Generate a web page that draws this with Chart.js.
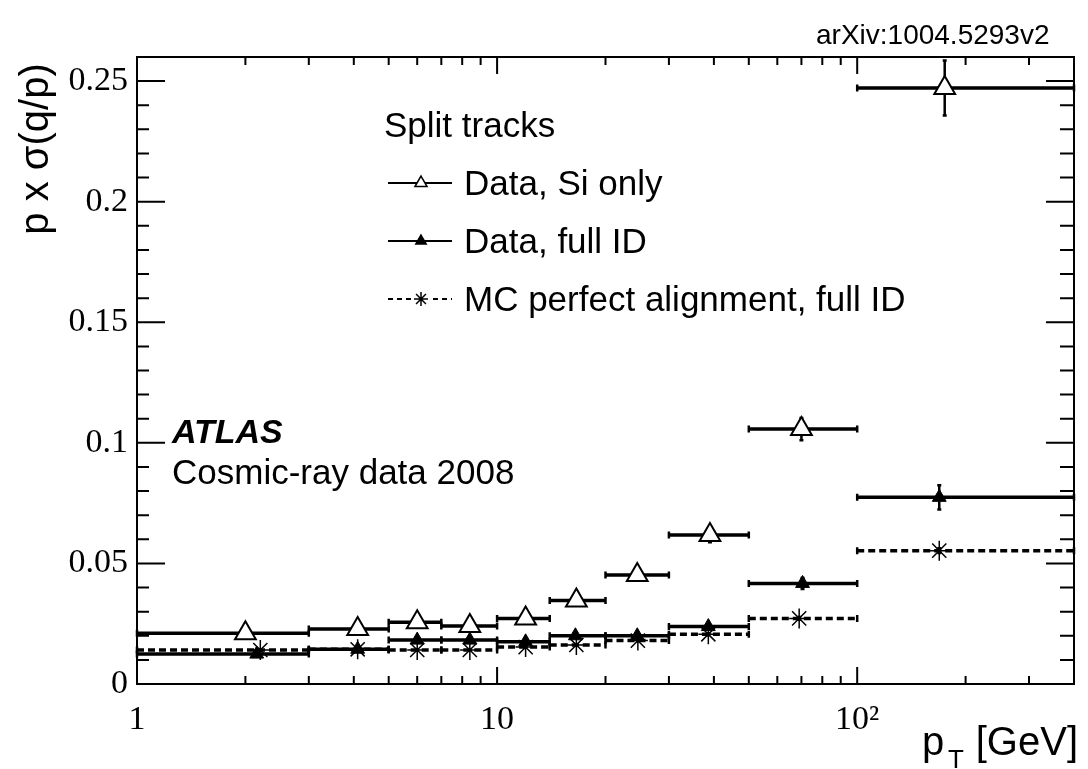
<!DOCTYPE html>
<html>
<head>
<meta charset="utf-8">
<script src="https://cdn.jsdelivr.net/npm/chart.js@4.4.0/dist/chart.umd.min.js"></script>
<style>
  body { margin: 0; background: #fff; }
  #wrap { width: 1088px; height: 769px; position: relative; }
</style>
</head>
<body>
<div id="wrap"><canvas id="myChart"></canvas></div>
<script>
// pT bins [GeV]
const binEdges = [1, 3, 5, 7, 10, 14, 20, 30, 50, 100, 400];

// Data, Si only
const siOnlyX = [2.0, 4.1, 6.0, 8.4, 12.0, 16.6, 24.5, 39, 70, 175];
const siOnly = [0.0210, 0.0228, 0.0256, 0.0240, 0.0272, 0.0346, 0.0452, 0.0618, 0.1057, 0.2471];
const siOnlyErr = [0.0006, 0.0006, 0.0007, 0.0007, 0.0008, 0.0010, 0.0015, 0.0030, 0.0046, 0.0114];

// Data, full ID
const fullIdX = [2.15, 4.1, 6.0, 8.4, 12.0, 16.5, 24.5, 38.6, 70.5, 169];
const fullId = [0.0124, 0.0144, 0.0182, 0.0182, 0.0175, 0.0200, 0.0200, 0.0238, 0.0417, 0.0774];
const fullIdErr = [0.0004, 0.0004, 0.0005, 0.0005, 0.0006, 0.0007, 0.0008, 0.0012, 0.0023, 0.0050];

// MC perfect alignment, full ID
const mcX = [2.2, 4.1, 6.0, 8.4, 12.0, 16.6, 24.6, 38.6, 69, 169];
const mcPerfect = [0.0141, 0.0144, 0.0141, 0.0141, 0.0153, 0.0162, 0.0180, 0.0206, 0.0272, 0.0553];
const mcErr = [0.0002, 0.0002, 0.0002, 0.0002, 0.0002, 0.0003, 0.0003, 0.0004, 0.0006, 0.0010];

const yTickValues = [0, 0.05, 0.1, 0.15, 0.2, 0.25];
const yTickLabels = ["0", "0.05", "0.1", "0.15", "0.2", "0.25"];
const xTickValues = [1, 10, 100];
const xTickLabels = ["1", "10", "10\u00B2"];

function steps(vals) {
  const pts = [];
  vals.forEach(function (v, i) {
    pts.push({ x: binEdges[i], y: v }, { x: binEdges[i + 1], y: v }, { x: binEdges[i + 1], y: null });
  });
  return pts;
}

function points(xs, vals) {
  return vals.map(function (v, i) { return { x: xs[i], y: v }; });
}

const SANS = "'Liberation Sans', Arial, sans-serif";
const SERIF = "'Liberation Serif', 'Times New Roman', serif";

// error bars: end caps of the bins and vertical errors
const errorBars = {
  id: "errorBars",
  beforeDatasetsDraw(chart) {
    const ctx = chart.ctx;
    const x = chart.scales.x, y = chart.scales.y;
    ctx.save();
    ctx.strokeStyle = "#000";
    ctx.lineWidth = 2.5;
    const sets = [[siOnly, siOnlyX, siOnlyErr], [fullId, fullIdX, fullIdErr], [mcPerfect, mcX, mcErr]];
    sets.forEach(function (s) {
      const vals = s[0], xs = s[1], errs = s[2];
      vals.forEach(function (v, i) {
        const py = y.getPixelForValue(v);
        ctx.beginPath();
        [binEdges[i], binEdges[i + 1]].forEach(function (e) {
          const px = x.getPixelForValue(e);
          ctx.moveTo(px, py - 3.5);
          ctx.lineTo(px, py + 3.5);
        });
        const cx = x.getPixelForValue(xs[i]);
        const top = y.getPixelForValue(v + errs[i]);
        const bot = y.getPixelForValue(v - errs[i]);
        ctx.moveTo(cx, top);
        ctx.lineTo(cx, bot);
        ctx.moveTo(cx - 2, top);
        ctx.lineTo(cx + 2, top);
        ctx.moveTo(cx - 2, bot);
        ctx.lineTo(cx + 2, bot);
        ctx.stroke();
      });
    });
    ctx.restore();
  }
};

// frame with inward ticks on all four sides
const frameTicks = {
  id: "frameTicks",
  afterDraw(chart) {
    const ctx = chart.ctx;
    const a = chart.chartArea;
    const x = chart.scales.x, y = chart.scales.y;
    ctx.save();
    ctx.strokeStyle = "#000";
    ctx.lineWidth = 2;
    ctx.strokeRect(a.left, a.top, a.right - a.left, a.bottom - a.top);
    ctx.beginPath();
    for (let i = 1; i <= 25; i++) {
      const py = y.getPixelForValue(i / 100);
      const major = i % 5 === 0;
      ctx.moveTo(a.left, py);
      ctx.lineTo(a.left + (major ? 28 : 12), py);
      ctx.moveTo(a.right, py);
      ctx.lineTo(a.right - (major ? 28 : 14), py);
    }
    [1, 10, 100].forEach(function (d) {
      for (let m = 1; m <= 9; m++) {
        const v = m * d;
        if (v <= 1 || v >= 400) continue;
        const px = x.getPixelForValue(v);
        const len = m === 1 ? 17 : 8;
        ctx.moveTo(px, a.bottom);
        ctx.lineTo(px, a.bottom - len);
        ctx.moveTo(px, a.top);
        ctx.lineTo(px, a.top + len);
      }
    });
    ctx.stroke();
    ctx.restore();
  }
};

// legend, labels and annotations
const annotations = {
  id: "annotations",
  afterDraw(chart) {
    const ctx = chart.ctx;
    ctx.save();
    ctx.fillStyle = "#000";
    ctx.textBaseline = "alphabetic";
    ctx.textAlign = "left";

    ctx.font = "28px " + SANS;
    ctx.fillText("arXiv:1004.5293v2", 816, 44);

    ctx.font = "35px " + SANS;
    ctx.fillText("Split tracks", 384, 137);
    ctx.fillText("Data, Si only", 464, 195);
    ctx.fillText("Data, full ID", 464, 253);
    ctx.fillText("MC perfect alignment, full ID", 464, 311);

    ctx.font = "italic bold 34px " + SANS;
    ctx.fillText("ATLAS", 172, 443);
    ctx.font = "35px " + SANS;
    ctx.fillText("Cosmic-ray data 2008", 172, 484);

    // legend samples
    ctx.strokeStyle = "#000";
    ctx.lineWidth = 2;
    const rows = [183, 241, 299];
    ctx.beginPath();
    ctx.moveTo(388, rows[0]); ctx.lineTo(452, rows[0]);
    ctx.moveTo(388, rows[1]); ctx.lineTo(452, rows[1]);
    ctx.stroke();
    ctx.setLineDash([5, 4]);
    ctx.beginPath();
    ctx.moveTo(388, rows[2]); ctx.lineTo(452, rows[2]);
    ctx.stroke();
    ctx.setLineDash([]);
    ctx.fillStyle = "#fff";
    ctx.lineWidth = 1.5;
    Chart.helpers.drawPoint(ctx, { pointStyle: "triangle", radius: 7, borderWidth: 1.5, rotation: 0 }, 421, rows[0]);
    ctx.fillStyle = "#000";
    Chart.helpers.drawPoint(ctx, { pointStyle: "triangle", radius: 6, borderWidth: 1.5, rotation: 0 }, 421, rows[1]);
    ctx.fillStyle = "#fff";
    ctx.fillRect(412, rows[2] - 8, 18, 16);
    Chart.helpers.drawPoint(ctx, { pointStyle: "star", radius: 7, borderWidth: 1.2, rotation: 0 }, 421, rows[2]);

    // axis titles
    ctx.fillStyle = "#000";
    ctx.font = "40px " + SANS;
    ctx.fillText("p", 922, 755);
    ctx.font = "26px " + SANS;
    ctx.fillText("T", 948, 768);
    ctx.font = "40px " + SANS;
    ctx.textAlign = "right";
    ctx.fillText("[GeV]", 1078, 755);

    ctx.save();
    ctx.translate(37, 149);
    ctx.rotate(-Math.PI / 2);
    ctx.textAlign = "center";
    ctx.textBaseline = "middle";
    ctx.font = "40px " + SANS;
    ctx.fillText("p x \u03C3(q/p)", 0, 0);
    ctx.restore();

    ctx.restore();
  }
};

Chart.defaults.color = "#000";
Chart.defaults.font.family = SERIF;

const ctx = document.getElementById("myChart").getContext("2d");

const myChart = new Chart(ctx, {
  type: "line",
  data: {
    datasets: [
      {
        label: "Data, Si only",
        data: points(siOnlyX, siOnly),
        showLine: false,
        pointStyle: "triangle",
        pointRadius: 12,
        pointBorderWidth: 2,
        pointBackgroundColor: "#fff",
        pointBorderColor: "#000",
        order: 0,
      },
      {
        label: "Data, full ID",
        data: points(fullIdX, fullId),
        showLine: false,
        pointStyle: "triangle",
        pointRadius: 8,
        pointBorderWidth: 1,
        pointBackgroundColor: "#000",
        pointBorderColor: "#000",
        order: 0,
      },
      {
        label: "MC perfect alignment, full ID",
        data: points(mcX, mcPerfect),
        showLine: false,
        pointStyle: "star",
        pointRadius: 10,
        pointBorderWidth: 1.5,
        pointBorderColor: "#000",
        order: 0,
      },
      {
        label: "Si only bins",
        data: steps(siOnly),
        borderColor: "#000",
        borderWidth: 3.5,
        pointRadius: 0,
        spanGaps: false,
        order: 1,
      },
      {
        label: "full ID bins",
        data: steps(fullId),
        borderColor: "#000",
        borderWidth: 3.5,
        pointRadius: 0,
        spanGaps: false,
        order: 1,
      },
      {
        label: "MC bins",
        data: steps(mcPerfect),
        borderColor: "#000",
        borderWidth: 3.5,
        borderDash: [7, 4],
        pointRadius: 0,
        spanGaps: false,
        order: 1,
      },
    ],
  },
  options: {
    responsive: true,
    maintainAspectRatio: false,
    animation: false,
    clip: false,
    layout: { padding: { top: 57, right: 9, left: 0, bottom: 0 } },
    plugins: {
      legend: { display: false },
      tooltip: { enabled: false },
    },
    scales: {
      x: {
        type: "logarithmic",
        min: 1,
        max: 400,
        grid: { display: false, drawTicks: false },
        border: { display: false },
        afterBuildTicks: function (scale) {
          scale.ticks = xTickValues.map(function (v) { return { value: v }; });
        },
        afterFit: function (scale) { scale.height = 85; },
        ticks: {
          autoSkip: false,
          maxRotation: 0,
          padding: 16,
          font: { size: 34, family: SERIF },
          callback: function (v) { return xTickLabels[xTickValues.indexOf(v)]; },
        },
      },
      y: {
        min: 0,
        max: 0.26,
        grid: { display: false, drawTicks: false },
        border: { display: false },
        afterBuildTicks: function (scale) {
          scale.ticks = yTickValues.map(function (v) { return { value: v }; });
        },
        afterFit: function (scale) { scale.width = 137; },
        ticks: {
          padding: 9,
          font: { size: 34, family: SERIF },
          callback: function (v) { return yTickLabels[yTickValues.indexOf(v)]; },
        },
      },
    },
  },
  plugins: [errorBars, frameTicks, annotations],
});
</script>
</body>
</html>
